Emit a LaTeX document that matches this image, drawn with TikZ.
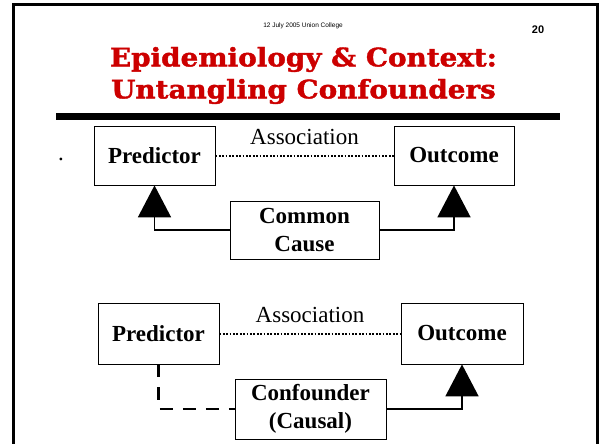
\documentclass[tikz,border=0pt]{standalone}
\usepackage{fontspec}
\setmainfont{Liberation Serif}
\newfontfamily\headfont{Liberation Sans}
\newfontfamily\titlefont{DejaVu Serif Bold}[FakeBold=1.6, FakeStretch=1.09]
\usepackage{tikz}
\usetikzlibrary{arrows.meta, positioning}
\definecolor{titlered}{RGB}{204, 0, 0}

\begin{document}
\begin{tikzpicture}[x=1pt, y=-1pt,
    box/.style={draw, line width=0.8pt, font=\fontsize{23}{27.6}\selectfont\bfseries, align=center, inner sep=0pt},
    assoc/.style={line width=2pt, dash pattern=on 1.7pt off 1.7pt},
    assoclabel/.style={midway, above=6.5pt, font=\fontsize{23}{27.6}\selectfont},
    link/.style={line width=1.8pt},
    bigtip/.style={-{Triangle[width=33pt, length=32pt]}},
    hidden/.style={line width=2.8pt, dash pattern=on 13pt off 10pt}]
    \useasboundingbox (0,0) rectangle (602,444);

    % Slide frame
    \draw[line width=3pt] (13,444) -- (13,5) -- (597,5) -- (597,444);

    % Header
    \node[font=\headfont\fontsize{6.5}{8}\selectfont] (date) at (303,25.5) {12 July 2005 Union College};
    \node[font=\headfont\bfseries\fontsize{11}{13}\selectfont] (page) at (538,29.5) {20};

    % Title
    \node[font=\titlefont\fontsize{25.5}{32}\selectfont, text=titlered, align=center] (title) at (303.5,75.5) {Epidemiology \& Context:\\Untangling Confounders};
    \draw[line width=7pt] (56,116.5) -- (560,116.5);

    % Common cause
    \node[font=\fontsize{23}{27.6}\selectfont, anchor=base] (dot) at (61,160) {.};
    \node[box, minimum width=121pt, minimum height=59pt] (pred1) at (154.5,155.5) {Predictor};
    \node[box, minimum width=120pt, minimum height=59pt] (out1) at (454,155.5) {Outcome};
    \node[box, minimum width=149pt, minimum height=58pt] (cause) at (304.5,230) {Common\\Cause};
    \draw[assoc] (pred1) -- node[assoclabel] {Association} (out1);
    \draw[link, bigtip] (cause.west) -| (pred1.south);
    \draw[link, bigtip] (cause.east) -| (out1.south);

    % Confounder
    \node[box, minimum width=121pt, minimum height=61pt] (pred2) at (158.5,333.5) {Predictor};
    \node[box, minimum width=122pt, minimum height=61pt] (out2) at (462,333.5) {Outcome};
    \node[box, minimum width=151pt, minimum height=60pt] (conf) at (310.5,409) {Confounder\\(Causal)};
    \draw[assoc] (pred2) -- node[assoclabel] {Association} (out2);
    \draw[hidden] (pred2.south) |- (conf.west);
    \draw[link, bigtip] (conf.east) -| (out2.south);
\end{tikzpicture}
\end{document}
